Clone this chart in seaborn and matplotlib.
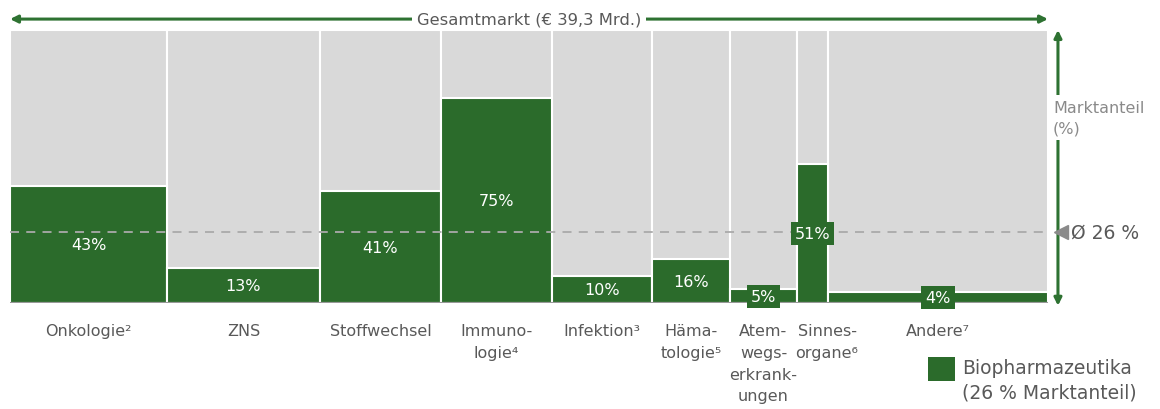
"""
Biopharmazeutika market share by indication (Marimekko style)
"""

import numpy as np
import pandas as pd
import seaborn as sns
import matplotlib.pyplot as plt
from matplotlib.patches import Rectangle

# Data
categories = [
    "Onkologie²", "ZNS", "Stoffwechsel", "Immuno-\nlogie⁴", "Infektion³",
    "Häma-\ntologie⁵", "Atem-\nwegs-\nerkrank-\nungen", "Sinnes-\norgane⁶", "Andere⁷",
]
market_size = [5.94, 5.79, 4.58, 4.20, 3.79, 2.95, 2.54, 1.17, 8.33]  # € Mrd.
bio_share = [43, 13, 41, 75, 10, 16, 5, 51, 4]  # %
avg_share = 26
total_label = "Gesamtmarkt (€ 39,3 Mrd.)"

GREEN = "#2b6b2b"
ARROW = "#2e7232"
GRAY_BG = "#d9d9d9"
TEXT = "#595959"

sns.set_style("white")
plt.rcParams["font.family"] = ["DejaVu Sans"]

edges = np.concatenate([[0], np.cumsum(market_size)])
centers = (edges[:-1] + edges[1:]) / 2
total = edges[-1]

df = pd.DataFrame({
    "center": centers,
    "full": [100.0] * len(centers),
    "share": np.array(bio_share, dtype=float),
})

fig = plt.figure(figsize=(11.6, 4.1), dpi=100)
ax = fig.add_axes([10 / 1160, 106 / 410, 1038 / 1160, 273 / 410])

# Full-height gray columns, then green share columns
sns.histplot(data=df, x="center", weights="full", bins=list(edges), color=GRAY_BG,
             edgecolor="white", linewidth=1.5, alpha=1, ax=ax)
sns.histplot(data=df, x="center", weights="share", bins=list(edges), color=GREEN,
             edgecolor="white", linewidth=1.5, alpha=1, ax=ax)

ax.set_xlim(0, total)
ax.set_ylim(0, 100)
ax.set_xticks([])
ax.set_yticks([])
ax.set_xlabel("")
ax.set_ylabel("")
sns.despine(ax=ax, left=True, bottom=True)
ax.axhline(0, color="#999999", lw=1.5)

# Average line
ax.axhline(avg_share, color="#aaaaaa", lw=1.3, dashes=(5, 4), zorder=3)

# Percent labels
for cx, share in zip(centers, bio_share):
    ax.text(cx, share / 2, f"{share}%", ha="center", va="center", color="white",
            fontsize=11.5, zorder=5,
            bbox=dict(boxstyle="square,pad=0.25", fc=GREEN, ec="none"))

# Category labels
for cx, cat in zip(centers, categories):
    dx = 0.55 if cat.startswith("Sinnes") else 0
    ax.text(cx + dx, -7.5, cat, ha="center", va="top", color=TEXT, fontsize=11.5,
            linespacing=1.55, clip_on=False)

# Top arrow: total market
ax.annotate("", xy=(1, 1.04), xytext=(0, 1.04), xycoords="axes fraction",
            arrowprops=dict(arrowstyle="<|-|>", color=ARROW, lw=2.2,
                            mutation_scale=11, shrinkA=0, shrinkB=0))
ax.text(0.5, 1.04, total_label, transform=ax.transAxes, ha="center", va="center",
        color=TEXT, fontsize=11.8,
        bbox=dict(boxstyle="square,pad=0.3", fc="white", ec="none"))

# Right arrow: market share
ax.annotate("", xy=(1.0096, 1.0), xytext=(1.0096, -0.01), xycoords="axes fraction",
            arrowprops=dict(arrowstyle="<|-|>", color=ARROW, lw=2.2,
                            mutation_scale=11, shrinkA=0, shrinkB=0))
ax.text(1.0048, 0.68, "Marktanteil\n(%)", transform=ax.transAxes, ha="left",
        va="center", color="#8a8a8a", fontsize=11.5, linespacing=1.45,
        bbox=dict(boxstyle="square,pad=0.3", fc="white", ec="none"))
ax.plot([1.0125], [avg_share / 100], marker="<", markersize=10, color="#8a8a8a",
        transform=ax.transAxes, clip_on=False, zorder=6)
ax.text(1.0225, avg_share / 100, "Ø 26 %", transform=ax.transAxes, ha="left",
        va="center", color=TEXT, fontsize=13.5)

# Legend
fig.patches.append(Rectangle((928 / 1160, 28 / 410), 27 / 1160, 24 / 410,
                             transform=fig.transFigure, fc=GREEN, ec="none"))
fig.text(962 / 1160, 7 / 410, "Biopharmazeutika\n(26 % Marktanteil)",
         ha="left", va="bottom", color=TEXT, fontsize=13.5, linespacing=1.4)

fig.savefig("out.png", dpi=100)
